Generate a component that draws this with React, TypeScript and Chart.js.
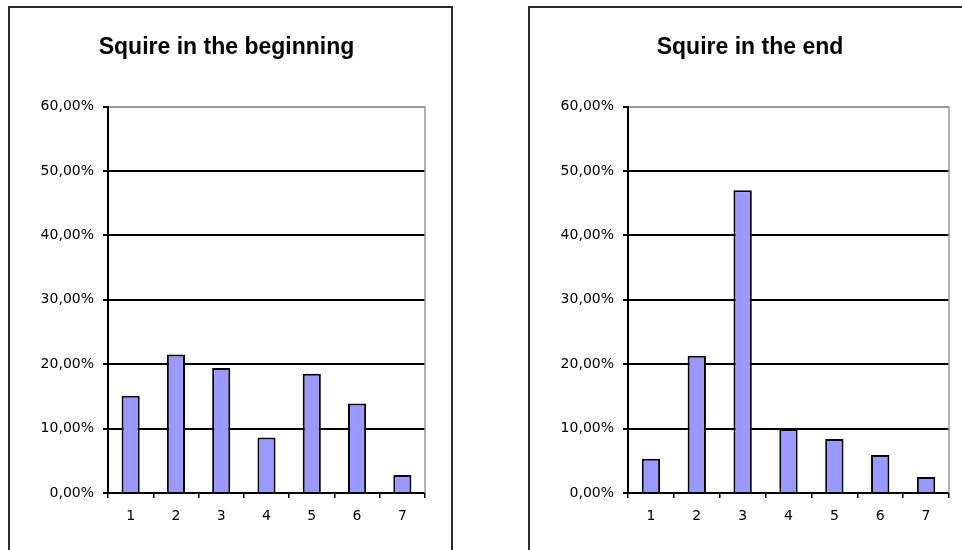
import React, { useEffect, useRef } from "react";
import { Chart, registerables } from "chart.js";

Chart.register(...registerables);

const TITLE_FONT = "'Liberation Sans', Arial, sans-serif";
const TICK_FONT = "'DejaVu Sans', Verdana, sans-serif";

const categories = ["1", "2", "3", "4", "5", "6", "7"];
const beginningShares = [15.1, 21.5, 19.4, 8.6, 18.5, 13.9, 2.8];
const endShares = [5.3, 21.3, 47.0, 9.9, 8.4, 5.9, 2.5];
const yMax = 60;
const yStep = 10;

const formatPercent = (v: number) => v.toFixed(2).replace(".", ",") + "%";

// Gray plot-area edge on the right side
const plotFrame = {
  id: "plotFrame",
  beforeDatasetsDraw(chart: any) {
    const { ctx, chartArea } = chart;
    ctx.save();
    ctx.strokeStyle = "#999999";
    ctx.lineWidth = 1.5;
    ctx.beginPath();
    ctx.moveTo(chartArea.right, chartArea.top);
    ctx.lineTo(chartArea.right, chartArea.bottom);
    ctx.stroke();
    ctx.restore();
  },
};

type PanelProps = {
  title: string;
  values: number[];
  left: number;
  padLeft: number;
  padRight: number;
};

function BarPanel({ title, values, left, padLeft, padRight }: PanelProps) {
  const ref = useRef<HTMLCanvasElement | null>(null);

  useEffect(() => {
    if (!ref.current) return;
    const chart = new Chart(ref.current, {
      type: "bar",
      data: {
        labels: categories,
        datasets: [
          {
            data: values,
            backgroundColor: "#9999ff",
            borderColor: "#000000",
            borderWidth: 2,
            barPercentage: 0.4,
            categoryPercentage: 1,
          },
        ],
      },
      options: {
        animation: false,
        responsive: false,
        layout: { padding: { left: padLeft, right: padRight, top: 0, bottom: 35 } },
        plugins: {
          legend: { display: false },
          tooltip: { enabled: false },
          title: {
            display: true,
            text: title,
            color: "#000000",
            font: { family: TITLE_FONT, size: 23, weight: "bold" },
            padding: { top: 26, bottom: 45 },
          },
        },
        scales: {
          x: {
            grid: {
              drawOnChartArea: false,
              drawTicks: true,
              tickLength: 5,
              color: "#000000",
              offset: true,
              lineWidth: 1.5,
            },
            border: { color: "#000000", width: 2 },
            ticks: {
              color: "#000000",
              font: { family: TICK_FONT, size: 14 },
              padding: 10,
              maxRotation: 0,
            },
            afterFit(scale: any) {
              scale.height = 40;
            },
          },
          y: {
            min: 0,
            max: yMax,
            ticks: {
              stepSize: yStep,
              color: "#000000",
              font: { family: TICK_FONT, size: 14 },
              padding: 9,
              callback: (v: any) => formatPercent(Number(v)),
            },
            grid: {
              color: (ctx: any) =>
                ctx.tick && ctx.tick.value === yMax ? "#999999" : "#000000",
              tickColor: "#000000",
              tickLength: 5,
              lineWidth: 2,
            },
            border: { color: "#000000", width: 2 },
            afterFit(scale: any) {
              scale.width = 98 - padLeft;
            },
          },
        },
      },
      plugins: [plotFrame],
    });
    return () => chart.destroy();
  }, [title, values, padLeft, padRight]);

  return (
    <div
      style={{
        position: "absolute",
        left,
        top: 6,
        width: 441,
        height: 560,
        border: "2px solid #2a2a2a",
        background: "#ffffff",
      }}
    >
      <canvas ref={ref} width={441} height={560} style={{ display: "block" }} />
    </div>
  );
}

export default function App() {
  return (
    <div
      style={{
        position: "fixed",
        left: 0,
        top: 0,
        width: 962,
        height: 550,
        overflow: "hidden",
        background: "#ffffff",
      }}
    >
      <BarPanel
        title="Squire in the beginning"
        values={beginningShares}
        left={8}
        padLeft={18}
        padRight={26}
      />
      <BarPanel
        title="Squire in the end"
        values={endShares}
        left={528}
        padLeft={21}
        padRight={22}
      />
    </div>
  );
}
